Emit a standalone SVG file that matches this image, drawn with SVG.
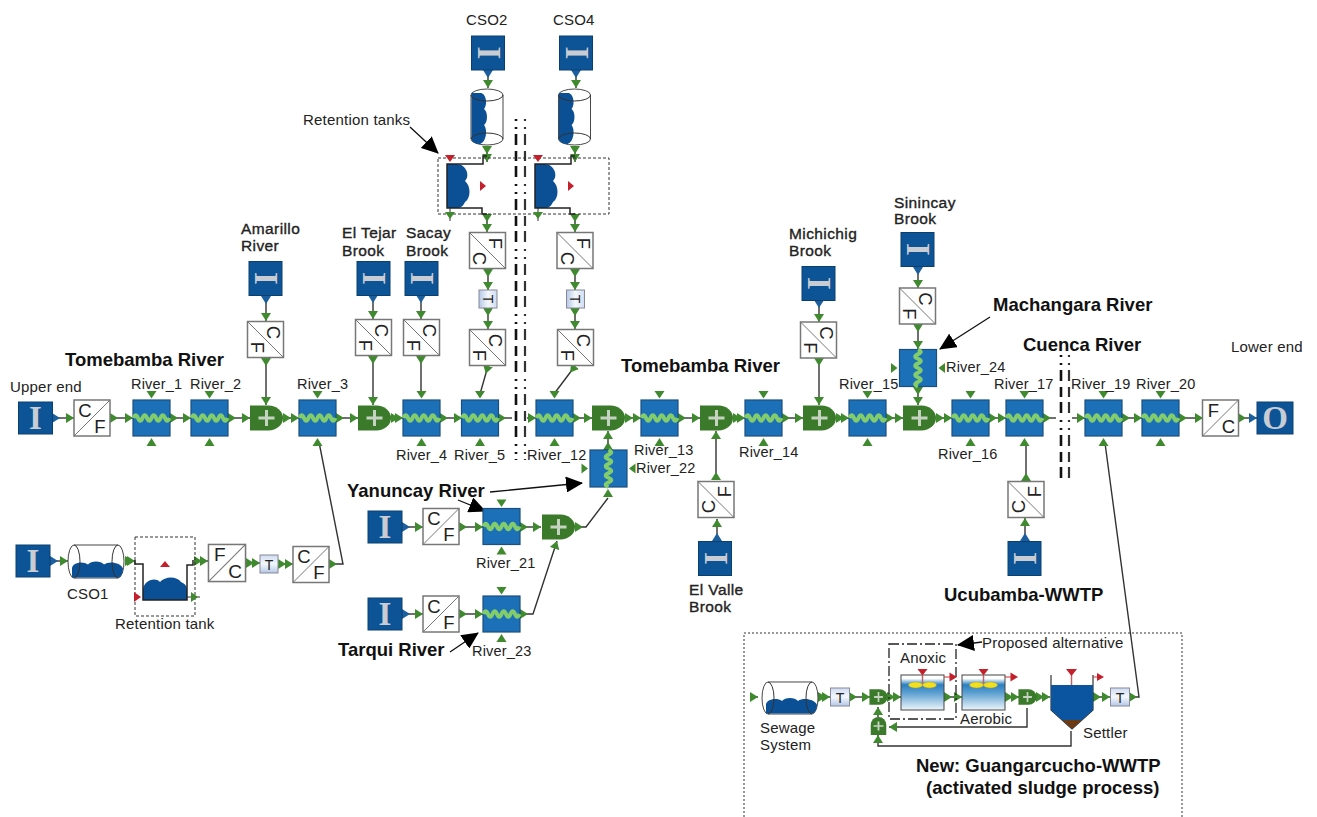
<svg xmlns="http://www.w3.org/2000/svg" width="1317" height="817" viewBox="0 0 1317 817">
<style>
text{font-family:"Liberation Sans",Arial,sans-serif;fill:#222}
.l{font-size:14.5px;letter-spacing:.2px}
.w{font-size:15px;letter-spacing:.2px}
.m{font-size:15.5px;letter-spacing:.4px;stroke:#222;stroke-width:.35px}
.h{font-size:18.5px;font-weight:bold;fill:#111}
.big{font-size:33px;font-weight:bold;font-family:"Liberation Serif",serif;fill:#c9ccd2;text-anchor:middle}
.cf{font-size:18.5px;fill:#222;text-anchor:middle}
.t{font-size:14px;text-anchor:middle;fill:#222}
.c{fill:none;stroke:#333;stroke-width:1.4;marker-start:url(#s);marker-end:url(#e)}
.a{fill:none;stroke:#111;stroke-width:1.3;marker-end:url(#k)}
.box{fill:#fff;stroke:#777;stroke-width:1.5}
.src{fill:#0d5496;stroke:#0a4070}
.riv{fill:#1b70b8;stroke:#1c4f7e;stroke-width:1.2}
.wave{fill:none;stroke:#82cc6c;stroke-width:4}
.g{fill:#3f8a2e}
.r{fill:#c4202c}
.cut{fill:none;stroke:#111;stroke-width:2.6;stroke-dasharray:2 6 2 5 11 6 10 5 11 7}
.cut2{fill:none;stroke:#333;stroke-width:2.2;stroke-dasharray:2 6 2 5 11 6 10 5 11 7}
.dot{fill:none;stroke:#333;stroke-width:1;stroke-dasharray:3 2}
</style>
<defs>
<marker id="s" markerUnits="userSpaceOnUse" markerWidth="9" markerHeight="10" refX="0" refY="5" orient="auto"><path d="M0 0L8 5L0 10Z" fill="#3f8a2e"/></marker>
<marker id="e" markerUnits="userSpaceOnUse" markerWidth="9" markerHeight="10" refX="8" refY="5" orient="auto"><path d="M0 0L8 5L0 10Z" fill="#3f8a2e"/></marker>
<marker id="sb" markerUnits="userSpaceOnUse" markerWidth="9" markerHeight="10" refX="0" refY="5" orient="auto"><path d="M0 0L8 5L0 10Z" fill="#1b5f9e"/></marker>
<marker id="eb" markerUnits="userSpaceOnUse" markerWidth="9" markerHeight="10" refX="8" refY="5" orient="auto"><path d="M0 0L8 5L0 10Z" fill="#1b5f9e"/></marker>
<marker id="k" markerUnits="userSpaceOnUse" markerWidth="18" markerHeight="16" refX="16" refY="8" orient="auto"><path d="M0 0L17 8L0 16Z" fill="#000"/></marker>
<linearGradient id="tg" x1="0" y1="0" x2="0" y2="1"><stop offset="0" stop-color="#cfdcf2"/><stop offset=".5" stop-color="#f4f7fc"/><stop offset="1" stop-color="#b4c8e8"/></linearGradient>
<linearGradient id="wg" x1="0" y1="0" x2="0" y2="1"><stop offset="0" stop-color="#fff"/><stop offset=".1" stop-color="#fff"/><stop offset=".28" stop-color="#2a7fc0"/><stop offset=".5" stop-color="#5a9ed0"/><stop offset="1" stop-color="#eef5fb"/></linearGradient>
<g id="river"><path class="g" d="M-5 -27H5L0 -19.500Z"/><path class="g" d="M-5 28H5L0 20Z"/><rect class="riv" x="-18.500" y="-18" width="37" height="36"/><path class="wave" d="M-18 0q2.250 -5.500 4.500 0t4.500 0t4.500 0t4.500 0t4.500 0t4.500 0t4.500 0t4.500 0"/></g>
<g id="riverv"><path class="g" d="M-27 -5V5L-20.500 0Z"/><path class="g" d="M27 -5V5L20.500 0Z"/><rect class="riv" x="-18.500" y="-18.500" width="37" height="37"/><path class="wave" d="M0 -18.500q5.500 2.310 0 4.620t0 4.620t0 4.620t0 4.620t0 4.620t0 4.620t0 4.620t0 4.620"/></g>
<g id="comb"><path d="M-16.500 -12.500H2A14.500 12.500 0 0 1 2 12.500H-16.500Z" fill="#3b7a2a"/><path d="M-8 0H8M0 -8V8" stroke="#c7d3c2" stroke-width="3"/></g>
<path id="water" d="M-24 16V7C-24 1 -13 -1 -8 3C-5 -1 5 -1 8 3C13 -1 25 1 27 7C27 11 25 16 22 16Z" fill="#0b4f94"/>
<g id="tank"><path d="M-22 -16.500H22A6 16.500 0 0 1 22 16.500H-22A6 16.500 0 0 1 -22 -16.500Z" fill="#fff" stroke="#444"/><use href="#water"/><path d="M-22 -16.500A6 16.500 0 0 1 -22 16.500M22 -16.500A6 16.500 0 0 0 22 16.500" fill="none" stroke="#333"/></g>
<g id="ret"><path d="M-22 24V14C-22 6 -11 0 -5 6C0 0 12 0 16 6C20 8 22 10 22 14V24Z" fill="#0b4f94"/><path d="M-30 -16V-12H-22V24H22V-11H28V-16" fill="none" stroke="#222" stroke-width="1.500"/><path class="r" d="M-5 -9H5L0 -15Z"/><path class="r" d="M-31 16L-24 21L-31 26Z"/><path d="M22 21H35" stroke="#333"/><path class="g" d="M26 16L33 21L26 26Z"/></g>
<g id="reactor"><rect x="-21.500" y="-17.500" width="43" height="35" fill="url(#wg)" stroke="#444"/><path d="M0 -18V-8" stroke="#b66" stroke-width="1.500"/><path class="r" d="M-5 -23.500H5L0 -17Z"/><ellipse cx="-7" cy="-7.500" rx="7" ry="3" fill="#f0e020" stroke="#b0a030" stroke-width=".5"/><ellipse cx="7" cy="-7.500" rx="7" ry="3" fill="#f0e020" stroke="#b0a030" stroke-width=".5"/><path d="M21.500 -15.500H28" stroke="#c33"/><path class="r" d="M27 -20L34.500 -15.500L27 -11Z"/></g>
</defs>

<g id="connectors">
<path class="c" style="marker-start:url(#sb)" d="M52 418H74"/>
<path class="c" d="M110 418H133"/>
<path class="c" d="M170 418H191"/>
<path class="c" d="M228 418H250"/>
<path class="c" d="M283 418H299"/>
<path class="c" d="M336 418H358"/>
<path class="c" d="M391 418H403"/>
<path class="c" d="M440 418H462"/>
<path class="c" style="marker-end:none" d="M498 418H512"/>
<path class="c" style="marker-start:none" d="M527 418H536"/>
<path class="c" d="M573 418H592"/>
<path class="c" d="M625 418H641"/>
<path class="c" d="M678 418H700"/>
<path class="c" d="M733 418H745"/>
<path class="c" d="M782 418H803"/>
<path class="c" d="M836 418H849"/>
<path class="c" d="M886 418H903"/>
<path class="c" d="M936 418H952"/>
<path class="c" d="M989 418H1006"/>
<path class="c" style="marker-end:none" d="M1043 418H1056"/>
<path class="c" style="marker-start:none" d="M1072 418H1085"/>
<path class="c" d="M1122 418H1142"/>
<path class="c" d="M1179 418H1203"/>
<path class="c" style="marker-end:url(#eb)" d="M1238 418H1257"/>

<path class="c" style="marker-start:url(#sb)" d="M266 296V321"/>
<path class="c" d="M266 358V405"/>
<path class="c" style="marker-start:url(#sb)" d="M373 295V319"/>
<path class="c" d="M373 356V405"/>
<path class="c" style="marker-start:url(#sb)" d="M421 295V319"/>
<path class="c" style="marker-end:none" d="M421 356V396"/>

<path class="c" style="marker-start:url(#sb)" d="M488 70V88"/>
<path class="c" d="M487 146V162"/>
<path class="c" d="M487 214V232"/>
<path class="c" d="M488 269V290"/>
<path class="c" d="M488 308V329"/>
<path class="c" style="marker-end:none" d="M488 366L480 394"/>
<path class="c" style="marker-start:url(#sb)" d="M576 70V88"/>
<path class="c" d="M575 146V162"/>
<path class="c" d="M575 214V232"/>
<path class="c" d="M575 269V290"/>
<path class="c" d="M575 308V329"/>
<path class="c" style="marker-end:none" d="M575 366L554 394"/>

<path class="c" d="M608 450V431"/>
<path class="c" style="marker-end:none" d="M575 527H586L608 498"/>
<path class="g" d="M603 497H613L608 489Z"/>
<path class="c" style="marker-start:url(#sb)" d="M402 527H423"/>
<path class="c" d="M459 527H483"/>
<path class="c" d="M520 527H541"/>
<path class="c" style="marker-start:url(#sb)" d="M402 614H423"/>
<path class="c" d="M459 614H483"/>
<path class="c" d="M520 614H533L557 541"/>

<path class="c" style="marker-start:url(#sb)" d="M717 541V519"/>
<path class="c" d="M716 480V431"/>
<path class="c" style="marker-start:url(#sb)" d="M1025 541V518"/>
<path class="c" style="marker-end:none" d="M1026 481V442"/>
<path class="c" style="marker-start:url(#sb)" d="M819 300V322"/>
<path class="c" d="M819 358V405"/>
<path class="c" style="marker-start:url(#sb)" d="M918 267V288"/>
<path class="c" d="M918 324V349"/>
<path class="c" d="M918 387V405"/>

<path class="c" style="marker-start:url(#sb)" d="M50 561H68"/>
<path class="c" d="M125 561H135"/>
<path class="c" d="M194 561H208"/>
<path class="c" d="M246 563H260"/>
<path class="c" d="M278 564H293"/>
<path class="c" style="marker-end:none" d="M329 564H343L319 442"/>

<path class="c" style="marker-start:none" d="M750 697H758"/>
<path class="c" d="M818 697H830"/>
<path class="c" d="M849 697H870"/>
<path class="c" d="M887 697H901"/>
<path class="c" d="M944 697H962"/>
<path class="c" d="M1005 697H1019"/>
<path class="c" d="M1036 697H1050"/>
<path class="c" d="M1093 697H1110"/>
<path class="c" style="marker-end:none" d="M1129 697H1139L1105 443"/>
<path class="c" style="marker-start:none" d="M1027 708V727H889"/>
<path class="c" style="marker-start:none" d="M878 717V707"/>
<path class="c" style="marker-start:none" d="M1071 731V746H878V735"/>
<path class="a" d="M410 127L438 153"/>
<path class="a" d="M990 317L940 349"/>
<path class="a" d="M490 492L582 483"/>
<path class="a" d="M458 500L485 511"/>
<path class="a" d="M450 652L478 633"/>
<path class="a" d="M982 642L958 645"/>
</g>

<path class="cut" d="M516 119V460"/>
<path class="cut2" d="M525 119V460"/>
<path class="cut" d="M1061 355V482"/>
<path class="cut2" d="M1069 355V482"/>

<g id="box-tanks"><rect class="dot" x="438" y="158" width="171" height="56"/></g>
<g id="box-tank"><rect class="dot" x="135" y="537" width="60" height="79"/></g>
<g id="box-wwtp"><path d="M744 817V633H1182V817" fill="none" stroke="#333" stroke-dasharray="2 2"/></g>
<g id="box-anoxic"><rect x="889" y="644" width="67" height="75" fill="none" stroke="#222" stroke-width="1.300" stroke-dasharray="10 3 2 3"/></g>

<g id="upper" transform="translate(35.500,418)"><rect class="src" x="-17" y="-16" width="34" height="32"/><text class="big" y="10.500">I</text></g>
<g id="lower" transform="translate(1275,418)"><rect class="src" x="-18" y="-16" width="36" height="32"/><text class="big" y="10.500">O</text></g>
<g id="cf-a" transform="translate(92,418)"><rect class="box" x="-18" y="-18" width="36" height="36"/><path d="M-18 18L18 -18" stroke="#777"/><text class="cf" x="-7" y="-1.500">C</text><text class="cf" x="8" y="14.500">F</text></g>
<g id="river1" transform="translate(151.500,418)"><use href="#river"/></g>
<g id="river2" transform="translate(209.500,418)"><use href="#river"/></g>
<g id="river3" transform="translate(317.500,418)"><use href="#river"/></g>
<g id="river4" transform="translate(421.500,418)"><use href="#river"/></g>
<g id="river5" transform="translate(480,418)"><use href="#river"/></g>
<g id="river12" transform="translate(554.500,418)"><use href="#river"/></g>
<g id="river13" transform="translate(659.500,418)"><use href="#river"/></g>
<g id="river14" transform="translate(763.500,418)"><use href="#river"/></g>
<g id="river15" transform="translate(867.500,418)"><use href="#river"/></g>
<g id="river16" transform="translate(970.500,418)"><use href="#river"/></g>
<g id="river17" transform="translate(1024.500,418)"><use href="#river"/></g>
<g id="river19" transform="translate(1103.500,418)"><use href="#river"/></g>
<g id="river20" transform="translate(1160.500,418)"><use href="#river"/></g>
<g id="river21" transform="translate(501.500,526.500)"><use href="#river"/></g>
<g id="river23" transform="translate(501.500,614)"><use href="#river"/></g>
<g id="river22" transform="translate(608.500,468.500)"><use href="#riverv"/></g>
<g id="river24" transform="translate(918,368)"><use href="#riverv"/></g>
<g id="comb1" transform="translate(266.500,418)"><use href="#comb"/></g>
<g id="comb2" transform="translate(374.500,418)"><use href="#comb"/></g>
<g id="comb3" transform="translate(608.500,418)"><use href="#comb"/></g>
<g id="comb4" transform="translate(716.500,418)"><use href="#comb"/></g>
<g id="comb5" transform="translate(819.500,418)"><use href="#comb"/></g>
<g id="comb6" transform="translate(919.500,418)"><use href="#comb"/></g>
<g id="comb7" transform="translate(558.500,527)"><use href="#comb"/></g>
<g id="cf-b" transform="translate(1220.500,418)"><rect class="box" x="-18" y="-18" width="36" height="36"/><path d="M-18 18L18 -18" stroke="#777"/><text class="cf" x="-7" y="-1.500">F</text><text class="cf" x="8" y="14.500">C</text></g>

<g id="src-amarillo" transform="translate(265.500,278.500) rotate(90)"><rect class="src" x="-17" y="-16.500" width="34" height="33"/><text class="big" y="10.500">I</text></g>
<g id="cf-amarillo" transform="translate(265.500,339.500) rotate(90)"><rect class="box" x="-18" y="-18" width="36" height="36"/><path d="M-18 18L18 -18" stroke="#777"/><text class="cf" x="-7" y="-1.500">C</text><text class="cf" x="8" y="14.500">F</text></g>
<g id="src-tejar" transform="translate(373.500,278.500) rotate(90)"><rect class="src" x="-17" y="-16.500" width="34" height="33"/><text class="big" y="10.500">I</text></g>
<g id="cf-tejar" transform="translate(373.500,337.500) rotate(90)"><rect class="box" x="-18" y="-18" width="36" height="36"/><path d="M-18 18L18 -18" stroke="#777"/><text class="cf" x="-7" y="-1.500">C</text><text class="cf" x="8" y="14.500">F</text></g>
<g id="src-sacay" transform="translate(421.500,278.500) rotate(90)"><rect class="src" x="-17" y="-16.500" width="34" height="33"/><text class="big" y="10.500">I</text></g>
<g id="cf-sacay" transform="translate(421.500,337.500) rotate(90)"><rect class="box" x="-18" y="-18" width="36" height="36"/><path d="M-18 18L18 -18" stroke="#777"/><text class="cf" x="-7" y="-1.500">C</text><text class="cf" x="8" y="14.500">F</text></g>
<g id="src-cso2" transform="translate(488,53) rotate(90)"><rect class="src" x="-17" y="-16.500" width="34" height="33"/><text class="big" y="10.500">I</text></g>
<g id="tank-cso2" transform="translate(487,117) rotate(90) scale(1,.97)"><use href="#tank"/></g>
<g id="ret-cso2" transform="translate(471,186) rotate(90)"><use href="#ret"/></g>
<g id="fc-cso2" transform="translate(487.500,250.500) rotate(90)"><rect class="box" x="-18" y="-18" width="36" height="36"/><path d="M-18 18L18 -18" stroke="#777"/><text class="cf" x="-7" y="-1.500">F</text><text class="cf" x="8" y="14.500">C</text></g>
<g id="t-cso2" transform="translate(488,299) rotate(90)"><rect x="-9" y="-9" width="18" height="18" fill="url(#tg)" stroke="#889"/><text class="t" y="5.500">T</text></g>
<g id="cf-cso2" transform="translate(487.500,347.500) rotate(90)"><rect class="box" x="-18" y="-18" width="36" height="36"/><path d="M-18 18L18 -18" stroke="#777"/><text class="cf" x="-7" y="-1.500">C</text><text class="cf" x="8" y="14.500">F</text></g>
<g id="src-cso4" transform="translate(576,53) rotate(90)"><rect class="src" x="-17" y="-16.500" width="34" height="33"/><text class="big" y="10.500">I</text></g>
<g id="tank-cso4" transform="translate(574.500,117) rotate(90) scale(1,.97)"><use href="#tank"/></g>
<g id="ret-cso4" transform="translate(559,186) rotate(90)"><use href="#ret"/></g>
<g id="fc-cso4" transform="translate(575,250.500) rotate(90)"><rect class="box" x="-18" y="-18" width="36" height="36"/><path d="M-18 18L18 -18" stroke="#777"/><text class="cf" x="-7" y="-1.500">F</text><text class="cf" x="8" y="14.500">C</text></g>
<g id="t-cso4" transform="translate(575.500,299) rotate(90)"><rect x="-9" y="-9" width="18" height="18" fill="url(#tg)" stroke="#889"/><text class="t" y="5.500">T</text></g>
<g id="cf-cso4" transform="translate(575.500,347.500) rotate(90)"><rect class="box" x="-18" y="-18" width="36" height="36"/><path d="M-18 18L18 -18" stroke="#777"/><text class="cf" x="-7" y="-1.500">C</text><text class="cf" x="8" y="14.500">F</text></g>
<g id="src-michichig" transform="translate(818.500,283.500) rotate(90)"><rect class="src" x="-17" y="-16.500" width="34" height="33"/><text class="big" y="10.500">I</text></g>
<g id="cf-michichig" transform="translate(818.500,340) rotate(90)"><rect class="box" x="-18" y="-18" width="36" height="36"/><path d="M-18 18L18 -18" stroke="#777"/><text class="cf" x="-7" y="-1.500">C</text><text class="cf" x="8" y="14.500">F</text></g>
<g id="src-sinincay" transform="translate(917.500,249.500) rotate(90)"><rect class="src" x="-17" y="-16.500" width="34" height="33"/><text class="big" y="10.500">I</text></g>
<g id="cf-sinincay" transform="translate(917.500,306) rotate(90)"><rect class="box" x="-18" y="-18" width="36" height="36"/><path d="M-18 18L18 -18" stroke="#777"/><text class="cf" x="-7" y="-1.500">C</text><text class="cf" x="8" y="14.500">F</text></g>
<g id="src-valle" transform="translate(715,558.500) rotate(90)"><rect class="src" x="-17" y="-16.500" width="34" height="33"/><text class="big" y="10.500">I</text></g>
<g id="cf-valle" transform="translate(716,499.500) rotate(-90)"><rect class="box" x="-18" y="-18" width="36" height="36"/><path d="M-18 18L18 -18" stroke="#777"/><text class="cf" x="-7" y="-1.500">C</text><text class="cf" x="8" y="14.500">F</text></g>
<g id="src-ucubamba" transform="translate(1024.500,558.500) rotate(90)"><rect class="src" x="-17" y="-16.500" width="34" height="33"/><text class="big" y="10.500">I</text></g>
<g id="cf-ucubamba" transform="translate(1026,499.500) rotate(-90)"><rect class="box" x="-18" y="-18" width="36" height="36"/><path d="M-18 18L18 -18" stroke="#777"/><text class="cf" x="-7" y="-1.500">C</text><text class="cf" x="8" y="14.500">F</text></g>

<g id="src-yanuncay" transform="translate(385,527)"><rect class="src" x="-17" y="-16" width="34" height="32"/><text class="big" y="10.500">I</text></g>
<g id="cf-yanuncay" transform="translate(441,526.500)"><rect class="box" x="-18" y="-18" width="36" height="36"/><path d="M-18 18L18 -18" stroke="#777"/><text class="cf" x="-7" y="-1.500">C</text><text class="cf" x="8" y="14.500">F</text></g>
<g id="src-tarqui" transform="translate(385,614)"><rect class="src" x="-17" y="-16" width="34" height="32"/><text class="big" y="10.500">I</text></g>
<g id="cf-tarqui" transform="translate(441,614)"><rect class="box" x="-18" y="-18" width="36" height="36"/><path d="M-18 18L18 -18" stroke="#777"/><text class="cf" x="-7" y="-1.500">C</text><text class="cf" x="8" y="14.500">F</text></g>

<g id="src-cso1" transform="translate(33,561)"><rect class="src" x="-17" y="-16" width="34" height="32"/><text class="big" y="10.500">I</text></g>
<g id="tank-cso1" transform="translate(96,561.500)"><use href="#tank"/></g>
<g id="ret-cso1" transform="translate(165,576)"><use href="#ret"/></g>
<g id="fc-cso1" transform="translate(227,563) scale(1.030)"><rect class="box" x="-18" y="-18" width="36" height="36"/><path d="M-18 18L18 -18" stroke="#777"/><text class="cf" x="-7" y="-1.500">F</text><text class="cf" x="8" y="14.500">C</text></g>
<g id="t-cso1" transform="translate(269,564)"><rect x="-9" y="-9" width="18" height="18" fill="url(#tg)" stroke="#889"/><text class="t" y="5.500">T</text></g>
<g id="cf-cso1" transform="translate(311,564.500)"><rect class="box" x="-18" y="-18" width="36" height="36"/><path d="M-18 18L18 -18" stroke="#777"/><text class="cf" x="-7" y="-1.500">C</text><text class="cf" x="8" y="14.500">F</text></g>

<g id="sewage" transform="translate(790,698) scale(1,.97)"><use href="#tank"/></g>
<g id="t-in" transform="translate(839.500,697)"><rect x="-9" y="-9" width="19" height="18" fill="url(#tg)" stroke="#889"/><text class="t" x=".5" y="5.500">T</text></g>
<g id="mix1" transform="translate(878.500,697) scale(.55,.62)"><use href="#comb"/></g>
<g id="mix2" transform="translate(1027.500,697) scale(.55,.62)"><use href="#comb"/></g>
<g id="mix3" transform="translate(878.500,726) rotate(-90) scale(.55,.62)"><use href="#comb"/></g>
<g id="anoxic" transform="translate(922.500,692.500)"><use href="#reactor"/></g>
<g id="aerobic" transform="translate(983.500,692.500)"><use href="#reactor"/></g>
<g id="settler"><path d="M1051 675V710L1072 729L1093 710V675" fill="none" stroke="#333" stroke-width="1.200"/><path d="M1051 685H1093V710L1072 729L1051 710Z" fill="#0b55a0"/><path d="M1062 720H1082L1072 729Z" fill="#6b3a12"/><path d="M1071.500 675V685" stroke="#b66" stroke-width="1.500"/><path class="r" d="M1066 669H1077L1071.500 676Z"/><path d="M1093 677H1099" stroke="#c33"/><path class="r" d="M1097 673L1104 677L1097 681Z"/></g>
<g id="t-out" transform="translate(1119.500,697)"><rect x="-9" y="-9" width="19" height="18" fill="url(#tg)" stroke="#889"/><text class="t" x=".5" y="5.500">T</text></g>

<g id="labels">
<text class="w" x="303" y="125">Retention tanks</text>
<text class="w" x="466" y="25">CSO2</text>
<text class="w" x="553" y="25">CSO4</text>
<text class="m" x="241" y="234">Amarillo</text><text class="m" x="241" y="251">River</text>
<text class="m" x="342" y="238">El Tejar</text><text class="m" x="342" y="256">Brook</text>
<text class="m" x="406" y="238">Sacay</text><text class="m" x="406" y="256">Brook</text>
<text class="m" x="789" y="239">Michichig</text><text class="m" x="789" y="256">Brook</text>
<text class="m" x="894" y="208">Sinincay</text><text class="m" x="894" y="224">Brook</text>
<text class="m" x="689" y="595">El Valle</text><text class="m" x="689" y="612">Brook</text>
<text class="h" x="65" y="366">Tomebamba River</text>
<text class="h" x="621" y="372">Tomebamba River</text>
<text class="h" x="993" y="311">Machangara River</text>
<text class="h" x="1023" y="351">Cuenca River</text>
<text class="h" x="347" y="497">Yanuncay River</text>
<text class="h" x="338" y="656">Tarqui River</text>
<text class="h" x="944" y="601">Ucubamba-WWTP</text>
<text class="h" x="916" y="772">New: Guangarcucho-WWTP</text>
<text class="h" x="926" y="794">(activated sludge process)</text>
<text class="w" x="10" y="392">Upper end</text>
<text class="w" x="1231" y="352">Lower end</text>
<text class="l" x="131" y="389">River_1</text>
<text class="l" x="190" y="389">River_2</text>
<text class="l" x="297" y="389">River_3</text>
<text class="l" x="396" y="460">River_4</text>
<text class="l" x="454" y="460">River_5</text>
<text class="l" x="527" y="460">River_12</text>
<text class="l" x="634" y="455">River_13</text>
<text class="l" x="636" y="473">River_22</text>
<text class="l" x="739" y="457">River_14</text>
<text class="l" x="839" y="389">River_15</text>
<text class="l" x="946" y="372">River_24</text>
<text class="l" x="938" y="459">River_16</text>
<text class="l" x="994" y="389">River_17</text>
<text class="l" x="1071" y="389">River_19</text>
<text class="l" x="1136" y="389">River_20</text>
<text class="l" x="476" y="568">River_21</text>
<text class="l" x="472" y="656">River_23</text>
<text class="w" x="67" y="599">CSO1</text>
<text class="w" x="115" y="629">Retention tank</text>
<text class="w" x="760" y="733">Sewage</text><text class="w" x="760" y="750">System</text>
<text class="w" x="900" y="663">Anoxic</text>
<text class="w" x="960" y="724">Aerobic</text>
<text class="w" x="1083" y="738">Settler</text>
<text class="w" x="982" y="648">Proposed alternative</text>
</g>
</svg>
